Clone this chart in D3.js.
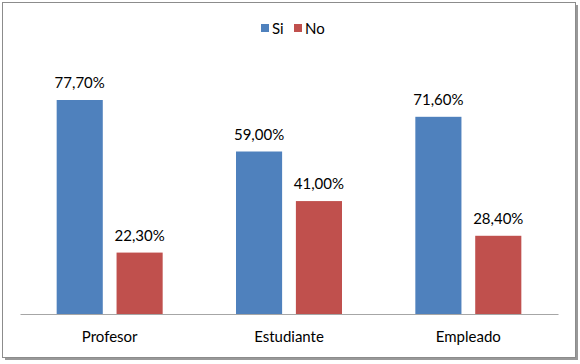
<!DOCTYPE html>
<html>
<head>
<meta charset="utf-8">
<script src="https://cdn.jsdelivr.net/npm/d3@7"></script>
<style>
  body { margin: 0; background: #fff; }
  svg { display: block; font-family: Lato, "Open Sans", sans-serif; }
</style>
</head>
<body>
<div id="chart"></div>
<script>
// chart data
const categories = ["Profesor", "Estudiante", "Empleado"];
const seriesNames = ["Si", "No"];
const siValues = [77.7, 59.0, 71.6];
const noValues = [22.3, 41.0, 28.4];
const colors = ["#4F81BD", "#C0504D"];

const W = 580, H = 364;
const svg = d3.select("#chart").append("svg")
  .attr("width", W)
  .attr("height", H);

// frame with shadow
svg.append("rect")
  .attr("x", 5).attr("y", 5).attr("width", 573).attr("height", 355)
  .attr("fill", "#999");
svg.append("rect")
  .attr("x", 2.5).attr("y", 2.5).attr("width", 573).attr("height", 355)
  .attr("fill", "#fff").attr("stroke", "#8c8c8c").attr("stroke-width", 1);

const left = 20, right = 558, baseline = 314;

const x0 = d3.scaleBand()
  .domain(categories)
  .range([left, right])
  .paddingInner(0)
  .paddingOuter(0);

const x1 = d3.scaleBand()
  .domain(seriesNames)
  .range([0, 106])
  .paddingInner(0.23);

const y = d3.scaleLinear()
  .domain([0, 77.7])
  .range([baseline, 100]);

const rows = categories.map((c, i) => ({ cat: c, vals: [siValues[i], noValues[i]] }));

const groups = svg.append("g")
  .selectAll("g")
  .data(rows)
  .enter()
  .append("g")
  .attr("transform", (d) => `translate(${x0(d.cat) + x0.bandwidth() / 2 - 53},0)`);

groups.selectAll("rect")
  .data((d) => d.vals.map((v, j) => ({ v, s: seriesNames[j], j })))
  .enter()
  .append("rect")
  .attr("x", (d) => x1(d.s))
  .attr("y", (d) => y(d.v))
  .attr("width", x1.bandwidth())
  .attr("height", (d) => baseline - y(d.v))
  .attr("fill", (d) => colors[d.j]);

groups.selectAll("text")
  .data((d) => d.vals.map((v, j) => ({ v, s: seriesNames[j] })))
  .enter()
  .append("text")
  .attr("x", (d) => x1(d.s) + x1.bandwidth() / 2)
  .attr("y", (d) => y(d.v) - 12)
  .attr("text-anchor", "middle")
  .attr("font-size", 15)
  .attr("fill", "#000")
  .text((d) => d.v.toFixed(2).replace(".", ",") + "%");

// category axis
const xAxis = svg.append("g")
  .attr("transform", `translate(0,${baseline})`)
  .call(d3.axisBottom(x0).tickSize(0).tickPadding(17));
xAxis.select(".domain").attr("stroke", "#a6a6a6").attr("stroke-width", 1.2);
xAxis.selectAll("text")
  .attr("font-family", "Lato, 'Open Sans', sans-serif")
  .attr("font-size", 15)
  .attr("fill", "#000");

// legend
const legend = svg.append("g");
const legendX = [261, 294];
seriesNames.forEach((s, i) => {
  legend.append("rect")
    .attr("x", legendX[i]).attr("y", 24)
    .attr("width", 8).attr("height", 8)
    .attr("fill", colors[i]);
  legend.append("text")
    .attr("x", legendX[i] + 11).attr("y", 34)
    .attr("font-size", 15)
    .attr("fill", "#000")
    .text(s);
});
</script>
</body>
</html>
